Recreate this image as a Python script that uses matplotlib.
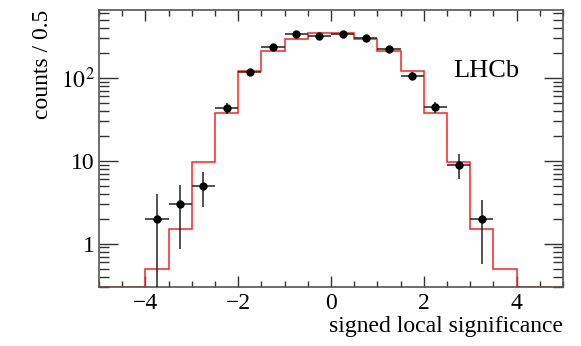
import numpy as np
import matplotlib
matplotlib.use("Agg")
import matplotlib.pyplot as plt
from matplotlib.ticker import FixedLocator, LogLocator, NullFormatter, FuncFormatter

plt.rcParams["font.family"] = ["Liberation Serif", "DejaVu Serif"]
plt.rcParams["mathtext.fontset"] = "stix"

# --- data ---
bin_edges = [-5.0, -4.5, -4.0, -3.5, -3.0, -2.5, -2.0, -1.5, -1.0, -0.5, 0.0,
             0.5, 1.0, 1.5, 2.0, 2.5, 3.0, 3.5, 4.0, 4.5, 5.0]
expected = [0, 0, 0.5, 1.52, 9.6, 37.7, 120, 214, 297, 347,
            347, 297, 214, 120, 37.7, 9.6, 1.52, 0.5, 0, 0]

x_data = [-3.75, -3.25, -2.75, -2.25, -1.75, -1.25, -0.75, -0.25,
          0.25, 0.75, 1.25, 1.75, 2.25, 2.75, 3.25]
y_data = [2, 3, 5, 43, 118, 239, 335, 317, 337, 302, 226, 107, 44.5, 9, 2]
y_low = [0.05, 0.87, 2.76, 37, 107, 224, 317, 299, 319, 285, 211, 97, 38, 6.0, 0.57]
y_high = [3.96, 5.1, 7.3, 50, 129, 255, 353, 335, 355, 319, 241, 118, 51, 12, 3.4]

YMIN, YMAX = 0.3, 660

fig = plt.figure(figsize=(5.81, 3.46), dpi=100)
ax = fig.add_axes([0.1704, 0.1705, 0.7986, 0.8005])

# model histogram (empty bins drawn on the frame)
vals = np.clip(np.array(expected, dtype=float), YMIN, None)
ax.stairs(vals, bin_edges, color="#ff2020", lw=1.1, zorder=2)

# data points with errors
xd = np.array(x_data)
yd = np.array(y_data)
yerr = [yd - np.array(y_low), np.array(y_high) - yd]
ax.errorbar(xd, yd, xerr=0.25, yerr=yerr, fmt="o", color="black",
            ecolor="#222222", ms=5, elinewidth=1.1, capsize=0, zorder=3)

ax.set_yscale("log")
ax.set_xlim(-5, 5)
ax.set_ylim(YMIN, YMAX)

ax.xaxis.set_major_locator(FixedLocator([-4, -2, 0, 2, 4]))
ax.xaxis.set_minor_locator(FixedLocator(np.arange(-5, 5.01, 0.5)))
ax.xaxis.set_major_formatter(FuncFormatter(lambda v, p: f"{int(v)}".replace("-", "\u2212")))

ax.yaxis.set_major_locator(FixedLocator([1, 10, 100]))
ax.yaxis.set_minor_locator(LogLocator(base=10, subs=np.arange(2, 10)))
ax.yaxis.set_minor_formatter(NullFormatter())
ax.yaxis.set_major_formatter(FuncFormatter(
    lambda v, p: {1: "1", 10: "10", 100: r"$10^{2}$"}.get(int(round(v)), "")))

ax.tick_params(which="both", direction="in", top=True, right=True,
               labelsize=17, color="#333333", width=1.0)
ax.tick_params(axis="x", which="major", length=8, pad=4)
ax.tick_params(axis="x", which="minor", length=4)
ax.tick_params(axis="y", which="major", length=14, pad=3)
ax.tick_params(axis="y", which="minor", length=7)
for sp in ax.spines.values():
    sp.set_color("#555555")
    sp.set_linewidth(1.2)

ax.set_xlabel("signed local significance", fontsize=17, loc="right", labelpad=2)
ax.set_ylabel("counts / 0.5", fontsize=17, loc="top", labelpad=6)

ax.text(0.905, 0.78, "LHCb", transform=ax.transAxes, fontsize=19,
        ha="right", va="center")

fig.savefig("out.png", dpi=100)
